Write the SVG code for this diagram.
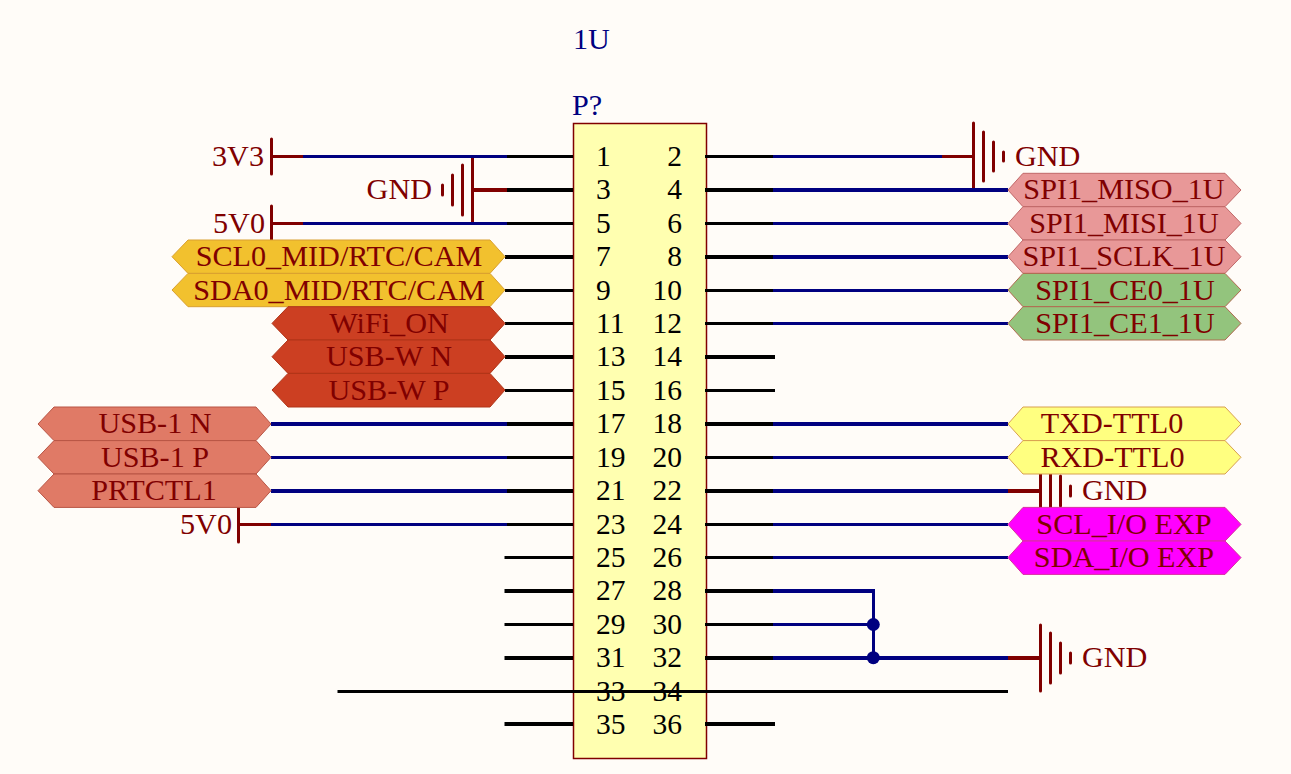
<svg xmlns="http://www.w3.org/2000/svg" width="1291" height="774" viewBox="0 0 1291 774">
<style>
text{font-family:"Liberation Serif","Times New Roman",serif;font-size:30.2px;fill:#800000}
.m{text-anchor:middle}.e{text-anchor:end}
.n{fill:#000;font-size:29.5px}.nr{fill:#000;font-size:29.5px;text-anchor:end}.d{fill:#000080}
line{fill:none}
.k{stroke:#000;stroke-width:3}.K{stroke:#000;stroke-width:4}
.b{stroke:#000080;stroke-width:3}.B{stroke:#000080;stroke-width:4}
.r{stroke:#800000;stroke-width:3}.R{stroke:#800000;stroke-width:4}
.bar{stroke:#800000;stroke-width:3;stroke-linecap:round}
.amber{fill:#F2C12E;stroke:#D9A030}.rust{fill:#CC3F22;stroke:#B03518}.salmon{fill:#E07A66;stroke:#B85545}
.pink{fill:#E89898;stroke:#C06868}.green{fill:#93C47D;stroke:#B06A50}.yellow{fill:#FFFF80;stroke:#D8A050}.mag{fill:#FF00FF;stroke:#D830A0}
</style>
<rect width="1291" height="774" fill="#FFFCF8"/>
<text id="designator" class="d" x="573" y="49">1U</text>
<g id="header-P">
<rect x="573.5" y="123.5" width="133" height="635" fill="#FFFFB0" stroke="#800000" stroke-width="1.5"/>
<text class="d" x="572" y="115">P?</text>
<text class="n" x="596" y="166">1</text><text class="nr" x="682" y="166">2</text>
<text class="n" x="596" y="199">3</text><text class="nr" x="682" y="199">4</text>
<text class="n" x="596" y="233">5</text><text class="nr" x="682" y="233">6</text>
<text class="n" x="596" y="266">7</text><text class="nr" x="682" y="266">8</text>
<text class="n" x="596" y="300">9</text><text class="nr" x="682" y="300">10</text>
<text class="n" x="596" y="333">11</text><text class="nr" x="682" y="333">12</text>
<text class="n" x="596" y="366">13</text><text class="nr" x="682" y="366">14</text>
<text class="n" x="596" y="400">15</text><text class="nr" x="682" y="400">16</text>
<text class="n" x="596" y="433">17</text><text class="nr" x="682" y="433">18</text>
<text class="n" x="596" y="467">19</text><text class="nr" x="682" y="467">20</text>
<text class="n" x="596" y="500">21</text><text class="nr" x="682" y="500">22</text>
<text class="n" x="596" y="534">23</text><text class="nr" x="682" y="534">24</text>
<text class="n" x="596" y="567">25</text><text class="nr" x="682" y="567">26</text>
<text class="n" x="596" y="600">27</text><text class="nr" x="682" y="600">28</text>
<text class="n" x="596" y="634">29</text><text class="nr" x="682" y="634">30</text>
<text class="n" x="596" y="667">31</text><text class="nr" x="682" y="667">32</text>
<text class="n" x="596" y="701">33</text><text class="nr" x="682" y="701">34</text>
<text class="n" x="596" y="734">35</text><text class="nr" x="682" y="734">36</text>
</g>
<g id="pwr-3V3"><line class="bar" x1="271.5" y1="139" x2="271.5" y2="174"/><line class="r" x1="271" y1="156.5" x2="303" y2="156.5"/><text class="e" x="264" y="166">3V3</text></g>
<g id="pwr-5V0-a"><line class="bar" x1="271.5" y1="206" x2="271.5" y2="241"/><line class="r" x1="271" y1="223.5" x2="303" y2="223.5"/><text class="e" x="265" y="233">5V0</text></g>
<g id="pwr-5V0-b"><line class="bar" x1="238.5" y1="507" x2="238.5" y2="542"/><line class="r" x1="238" y1="524.5" x2="271" y2="524.5"/><text class="e" x="232" y="534">5V0</text></g>
<g id="gnd-left"><line class="bar" x1="472.5" y1="157" x2="472.5" y2="223"/><line class="bar" x1="462.5" y1="165" x2="462.5" y2="215"/><line class="bar" x1="452.5" y1="175" x2="452.5" y2="205"/><line class="bar" x1="442.5" y1="185" x2="442.5" y2="195"/><line class="R" x1="472" y1="190" x2="507" y2="190"/><text class="e" x="432" y="199">GND</text></g>
<g id="gnd-top"><line class="bar" x1="973.5" y1="123" x2="973.5" y2="188"/><line class="bar" x1="983.5" y1="132" x2="983.5" y2="181"/><line class="bar" x1="993.5" y1="142" x2="993.5" y2="171"/><line class="bar" x1="1003.5" y1="152" x2="1003.5" y2="161"/><line class="r" x1="942" y1="156.5" x2="973" y2="156.5"/><text x="1015" y="166">GND</text></g>
<g id="gnd-22"><line class="bar" x1="1040.5" y1="458" x2="1040.5" y2="524"/><line class="bar" x1="1050.5" y1="466" x2="1050.5" y2="516"/><line class="bar" x1="1060.5" y1="476" x2="1060.5" y2="506"/><line class="bar" x1="1070.5" y1="486" x2="1070.5" y2="496"/><line class="R" x1="1008" y1="491" x2="1040" y2="491"/><text x="1082" y="500">GND</text></g>
<g id="gnd-32"><line class="bar" x1="1040.5" y1="625" x2="1040.5" y2="691"/><line class="bar" x1="1050.5" y1="633" x2="1050.5" y2="683"/><line class="bar" x1="1060.5" y1="643" x2="1060.5" y2="673"/><line class="bar" x1="1070.5" y1="653" x2="1070.5" y2="663"/><line class="R" x1="1008" y1="658" x2="1040" y2="658"/><text x="1082" y="667">GND</text></g>
<g id="connectors">
<line class="b" x1="303" y1="156.5" x2="507" y2="156.5"/><line class="k" x1="507" y1="156.5" x2="573" y2="156.5"/>
<line class="K" x1="507" y1="190" x2="573" y2="190"/>
<line class="b" x1="303" y1="223.5" x2="507" y2="223.5"/><line class="k" x1="507" y1="223.5" x2="573" y2="223.5"/>
<line class="K" x1="505" y1="257" x2="573" y2="257"/>
<line class="k" x1="505" y1="290.5" x2="573" y2="290.5"/>
<line class="k" x1="505" y1="323.5" x2="573" y2="323.5"/>
<line class="K" x1="505" y1="357" x2="573" y2="357"/>
<line class="k" x1="505" y1="390.5" x2="573" y2="390.5"/>
<line class="B" x1="271" y1="424" x2="507" y2="424"/><line class="K" x1="507" y1="424" x2="573" y2="424"/>
<line class="b" x1="271" y1="457.5" x2="507" y2="457.5"/><line class="k" x1="507" y1="457.5" x2="573" y2="457.5"/>
<line class="B" x1="271" y1="491" x2="507" y2="491"/><line class="K" x1="507" y1="491" x2="573" y2="491"/>
<line class="b" x1="271" y1="524.5" x2="507" y2="524.5"/><line class="k" x1="507" y1="524.5" x2="573" y2="524.5"/>
<line class="k" x1="504.5" y1="557.5" x2="573" y2="557.5"/>
<line class="K" x1="504.5" y1="591" x2="573" y2="591"/>
<line class="k" x1="504.5" y1="624.5" x2="573" y2="624.5"/>
<line class="K" x1="504.5" y1="658" x2="573" y2="658"/>
<line class="K" x1="504.5" y1="724" x2="573" y2="724"/>
<line class="k" x1="337.5" y1="691.5" x2="1008" y2="691.5"/>
<line class="b" x1="773" y1="156.5" x2="942" y2="156.5"/><line class="k" x1="705" y1="156.5" x2="773" y2="156.5"/>
<line class="B" x1="773" y1="190" x2="1008" y2="190"/><line class="K" x1="705" y1="190" x2="773" y2="190"/>
<line class="b" x1="773" y1="223.5" x2="1008" y2="223.5"/><line class="k" x1="705" y1="223.5" x2="773" y2="223.5"/>
<line class="B" x1="773" y1="257" x2="1008" y2="257"/><line class="K" x1="705" y1="257" x2="773" y2="257"/>
<line class="b" x1="773" y1="290.5" x2="1008" y2="290.5"/><line class="k" x1="705" y1="290.5" x2="773" y2="290.5"/>
<line class="b" x1="773" y1="323.5" x2="1008" y2="323.5"/><line class="k" x1="705" y1="323.5" x2="773" y2="323.5"/>
<line class="K" x1="705" y1="357" x2="775" y2="357"/>
<line class="k" x1="705" y1="390.5" x2="775" y2="390.5"/>
<line class="B" x1="773" y1="424" x2="1008" y2="424"/><line class="K" x1="705" y1="424" x2="773" y2="424"/>
<line class="b" x1="773" y1="457.5" x2="1008" y2="457.5"/><line class="k" x1="705" y1="457.5" x2="773" y2="457.5"/>
<line class="B" x1="773" y1="491" x2="1008" y2="491"/><line class="K" x1="705" y1="491" x2="773" y2="491"/>
<line class="b" x1="773" y1="524.5" x2="1008" y2="524.5"/><line class="k" x1="705" y1="524.5" x2="773" y2="524.5"/>
<line class="b" x1="773" y1="557.5" x2="1008" y2="557.5"/><line class="k" x1="705" y1="557.5" x2="773" y2="557.5"/>
<line class="B" x1="773" y1="591" x2="875" y2="591"/><line class="K" x1="705" y1="591" x2="773" y2="591"/>
<line class="b" x1="773" y1="624.5" x2="873" y2="624.5"/><line class="k" x1="705" y1="624.5" x2="773" y2="624.5"/>
<line class="B" x1="773" y1="658" x2="1008" y2="658"/><line class="K" x1="705" y1="658" x2="773" y2="658"/>
<line class="K" x1="705" y1="724" x2="775" y2="724"/>
<line class="b" x1="873.5" y1="591" x2="873.5" y2="658"/>
<circle cx="873.3" cy="624.5" r="6.5" fill="#000080"/><circle cx="873.3" cy="657.7" r="6.5" fill="#000080"/>
</g>
<g id="port-SCL0"><polygon class="amber" points="172,256.7 188,240 490,240 505,256.7 490,273.4 188,273.4"/><text class="m" x="339" y="266">SCL0_MID/RTC/CAM</text></g>
<g id="port-SDA0"><polygon class="amber" points="172,290 188,273.4 490,273.4 505,290 490,306.7 188,306.7"/><text class="m" x="339" y="300">SDA0_MID/RTC/CAM</text></g>
<g id="port-WiFi"><polygon class="rust" points="272,323.4 288,306.7 490,306.7 505,323.4 490,340 288,340"/><text class="m" x="389" y="333">WiFi_ON</text></g>
<g id="port-USBWN"><polygon class="rust" points="272,356.7 288,340 490,340 505,356.7 490,373.4 288,373.4"/><text class="m" x="389" y="366">USB-W N</text></g>
<g id="port-USBWP"><polygon class="rust" points="272,390 288,373.4 490,373.4 505,390 490,407 288,407"/><text class="m" x="389" y="400">USB-W P</text></g>
<g id="port-USB1N"><polygon class="salmon" points="38,424 54,407 256,407 271,424 256,440.6 54,440.6"/><text class="m" x="155" y="433">USB-1 N</text></g>
<g id="port-USB1P"><polygon class="salmon" points="38,457.3 54,440.6 256,440.6 271,457.3 256,474 54,474"/><text class="m" x="155" y="467">USB-1 P</text></g>
<g id="port-PRTCTL1"><polygon class="salmon" points="38,490.7 54,474 256,474 271,490.7 256,507.4 54,507.4"/><text class="m" x="154" y="500">PRTCTL1</text></g>
<g id="port-MISO"><polygon class="pink" points="1008,190 1023,173.3 1225,173.3 1241,190 1225,206.7 1023,206.7"/><text class="m" x="1124" y="199">SPI1_MISO_1U</text></g>
<g id="port-MISI"><polygon class="pink" points="1008,223.4 1023,206.7 1225,206.7 1241,223.4 1225,240 1023,240"/><text class="m" x="1124" y="233">SPI1_MISI_1U</text></g>
<g id="port-SCLK"><polygon class="pink" points="1008,256.7 1023,240 1225,240 1241,256.7 1225,273.4 1023,273.4"/><text class="m" x="1124" y="266">SPI1_SCLK_1U</text></g>
<g id="port-CE0"><polygon class="green" points="1008,290 1023,273.4 1225,273.4 1241,290 1225,306.7 1023,306.7"/><text class="m" x="1125" y="300">SPI1_CE0_1U</text></g>
<g id="port-CE1"><polygon class="green" points="1008,323.4 1023,306.7 1225,306.7 1241,323.4 1225,340 1023,340"/><text class="m" x="1125" y="333">SPI1_CE1_1U</text></g>
<g id="port-TXD"><polygon class="yellow" points="1008,424 1023,407 1225,407 1241,424 1225,440.6 1023,440.6"/><text class="m" x="1112" y="433">TXD-TTL0</text></g>
<g id="port-RXD"><polygon class="yellow" points="1008,457.3 1023,440.6 1225,440.6 1241,457.3 1225,474 1023,474"/><text class="m" x="1112.5" y="467">RXD-TTL0</text></g>
<g id="port-SCL-IO"><polygon class="mag" points="1008,524.4 1023,507.4 1225,507.4 1241,524.4 1225,541 1023,541"/><text class="m" x="1124" y="534">SCL_I/O EXP</text></g>
<g id="port-SDA-IO"><polygon class="mag" points="1008,557.6 1023,541 1225,541 1241,557.6 1225,574.4 1023,574.4"/><text class="m" x="1124" y="567">SDA_I/O EXP</text></g>
</svg>
